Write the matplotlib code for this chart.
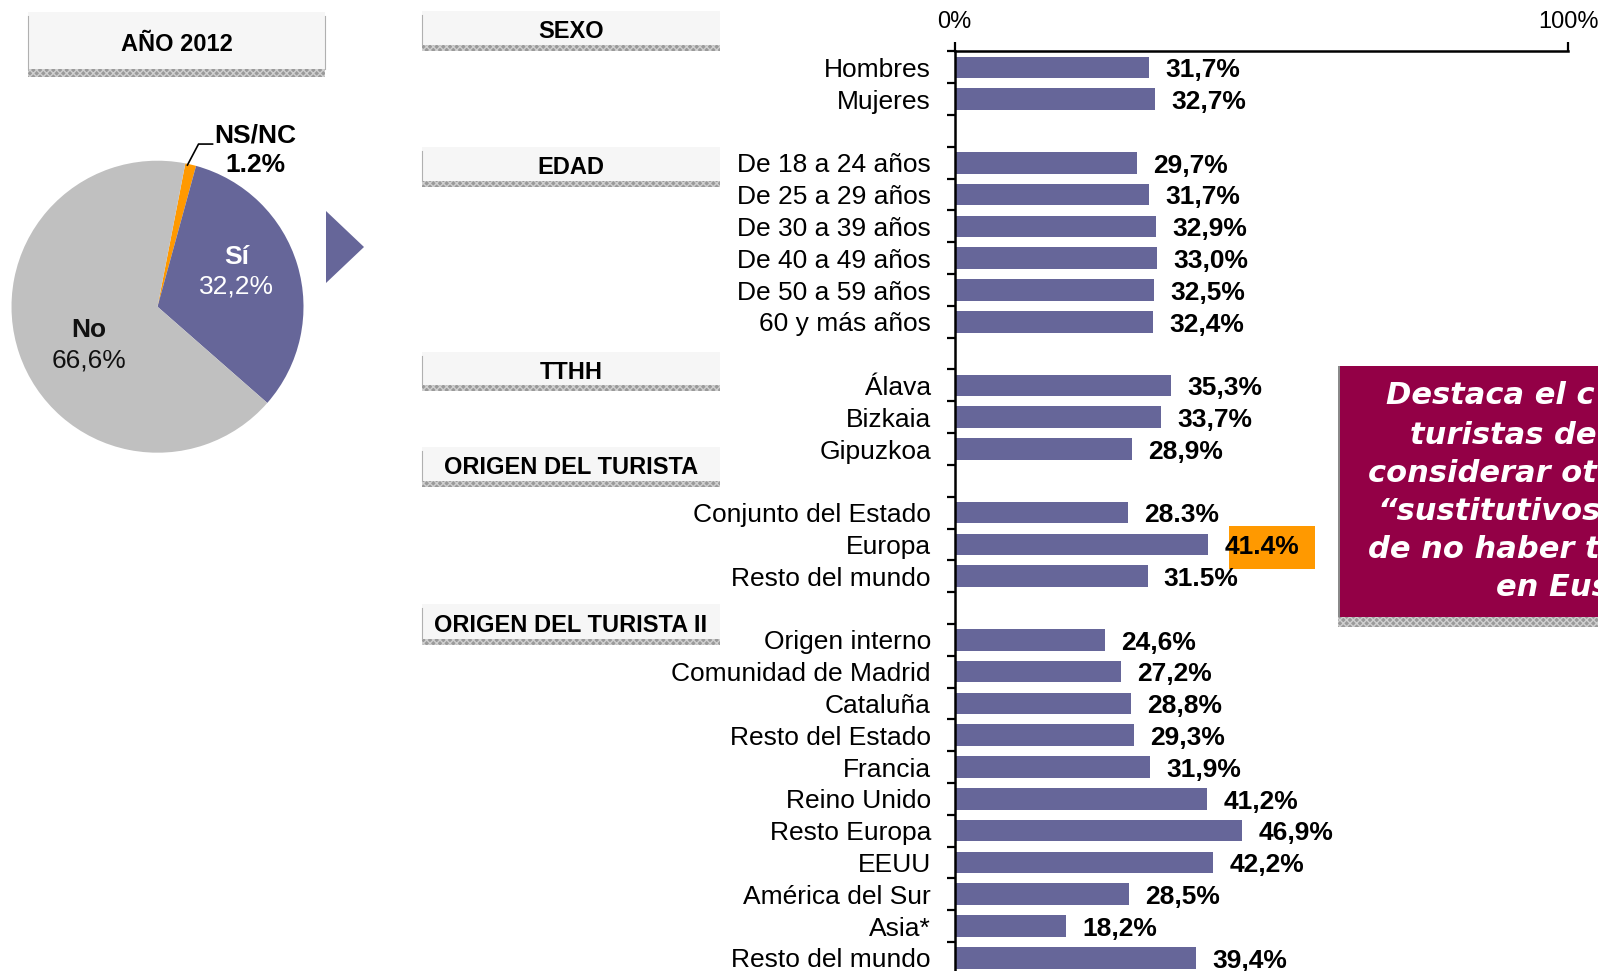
import matplotlib.pyplot as plt
import numpy as np
from matplotlib.patches import Polygon, Rectangle

plt.rcParams["font.family"] = ["Liberation Sans", "DejaVu Sans"]

W, H = 1598, 971
DPI = 100

PURPLE = "#666699"
ORANGE = "#FF9900"
GREY = "#C0C0C0"
MAROON = "#930046"

# pie: answers for 2012 (drawn clockwise from the top)
pie_names = ["NS/NC", "Sí", "No"]
pie_values = [1.2, 32.2, 66.6]
pie_decimal = [".", ",", ","]
pie_colors = [ORANGE, PURPLE, GREY]

# bar sections
section_titles = ["SEXO", "EDAD", "TTHH", "ORIGEN DEL TURISTA", "ORIGEN DEL TURISTA II"]

sexo_labels = ["Hombres", "Mujeres"]
sexo_values = [31.7, 32.7]

edad_labels = ["De 18 a 24 años", "De 25 a 29 años", "De 30 a 39 años",
               "De 40 a 49 años", "De 50 a 59 años", "60 y más años"]
edad_values = [29.7, 31.7, 32.9, 33.0, 32.5, 32.4]

tthh_labels = ["Álava", "Bizkaia", "Gipuzkoa"]
tthh_values = [35.3, 33.7, 28.9]

origen_labels = ["Conjunto del Estado", "Europa", "Resto del mundo"]
origen_values = [28.3, 41.4, 31.5]

origen2_labels = ["Origen interno", "Comunidad de Madrid", "Cataluña",
                  "Resto del Estado", "Francia", "Reino Unido", "Resto Europa",
                  "EEUU", "América del Sur", "Asia*", "Resto del mundo"]
origen2_values = [24.6, 27.2, 28.8, 29.3, 31.9, 41.2, 46.9, 42.2, 28.5, 18.2, 39.4]

groups = [
    (sexo_labels, sexo_values, ","),
    (edad_labels, edad_values, ","),
    (tthh_labels, tthh_values, ","),
    (origen_labels, origen_values, "."),
    (origen2_labels, origen2_values, ","),
]

# callout text running off the right edge of the slide
callout_lines = ["Destaca el c", "turistas de", "considerar ot",
                 "“sustitutivos", "de no haber t", "en Eus"]

# layout, in pixels from the top-left corner
header_boxes = [(422, 720, 11, 51), (422, 720, 147, 187), (422, 720, 352, 391),
                (422, 720, 447, 487), (422, 720, 604, 645)]
year_box = (28, 325, 12, 77)
callout_x = [1386, 1410, 1368, 1378, 1368, 1496]
callout_y = [396, 435, 473, 512, 549, 588]

fig = plt.figure(figsize=(W / DPI, H / DPI), dpi=DPI)
fig.patch.set_facecolor("white")


def header(ax, x0, x1, y0, y1, text, band=6):
    ax.add_patch(Rectangle((x0, y0), x1 - x0, y1 - y0 - band,
                           facecolor="#F6F6F6", edgecolor="none"))
    ax.add_patch(Rectangle((x0, y1 - band), x1 - x0, band, facecolor="#9a9a9a",
                           edgecolor="#cfcfcf", hatch="xxxxx", linewidth=0))
    ax.plot([x0, x0], [y0 + 4, y1 - band], color="#b0b0b0", lw=0.8)
    ax.text((x0 + x1) / 2, (y0 + y1 - band) / 2 + 4, text, ha="center",
            va="center", fontsize=17, fontweight="bold", color="black")


# overlay in pixel coordinates for boxes and the arrow
ov = fig.add_axes([0, 0, 1, 1], zorder=5)
ov.set_xlim(0, W)
ov.set_ylim(H, 0)
ov.axis("off")

x0, x1, y0, y1 = year_box
header(ov, x0, x1, y0, y1, "AÑO 2012", band=8)
ov.plot([x1, x1], [y0 + 4, y1 - 8], color="#b0b0b0", lw=0.8)
for (bx0, bx1, by0, by1), title in zip(header_boxes, section_titles):
    header(ov, bx0, bx1, by0, by1, title)

ov.add_patch(Polygon([(326, 211), (364, 247), (326, 283)], closed=True,
                     facecolor=PURPLE, edgecolor="none"))

# callout box on the right
ov.add_patch(Rectangle((1340, 366), W - 1340, 251, facecolor=MAROON, edgecolor="none"))
ov.add_patch(Rectangle((1338, 617), W - 1338, 10, facecolor="#9a9a9a",
                       edgecolor="#cfcfcf", hatch="xxxxx", linewidth=0))
ov.add_patch(Rectangle((1338, 366), 2, 251, facecolor="#8a8a8a", edgecolor="none"))
for line, lx, ly in zip(callout_lines, callout_x, callout_y):
    ov.text(lx, ly, line, ha="left", va="center", fontsize=22, color="white",
            family="DejaVu Sans", fontweight="bold", fontstyle="oblique")

# pie
cx, cy, r = 157.5, 306.7, 146
pax = fig.add_axes([(cx - r) / W, 1 - (cy + r) / H, 2 * r / W, 2 * r / H])
pax.pie(pie_values, colors=pie_colors, startangle=79, counterclock=False,
        radius=1, wedgeprops={"linewidth": 0})
pax.set_xlim(-1, 1)
pax.set_ylim(-1, 1)
pax.set_aspect("equal")
pax.axis("off")

pie_text = {n: f"{v:.1f}".replace(".", d) + "%"
            for n, v, d in zip(pie_names, pie_values, pie_decimal)}
pax.text(0.54, 0.34, "Sí", ha="center", va="center", fontsize=19,
         fontweight="bold", color="white")
pax.text(0.54, 0.135, pie_text["Sí"], ha="center", va="center", fontsize=19,
         color="white")
pax.text(-0.47, -0.16, "No", ha="center", va="center", fontsize=19,
         fontweight="bold", color="#111111")
pax.text(-0.47, -0.37, pie_text["No"], ha="center", va="center", fontsize=19,
         color="#111111")
pax.text(0.67, 1.176, "NS/NC", ha="center", va="center", fontsize=19,
         fontweight="bold", clip_on=False)
pax.text(0.67, 0.97, pie_text["NS/NC"], ha="center", va="center", fontsize=19,
         fontweight="bold", clip_on=False)
pax.plot([0.205, 0.281, 0.377], [0.97, 1.114, 1.114], color="black", lw=1.2,
         clip_on=False)

# bars
n_slots = sum(len(g[0]) for g in groups) + len(groups) - 1
slot_px = 31.8
top_px = 51.5
x0_px, x100_px = 954.5, 1568
ax = fig.add_axes([x0_px / W, 1 - (top_px + n_slots * slot_px) / H,
                   (x100_px - x0_px) / W, n_slots * slot_px / H], zorder=2)
ax.patch.set_visible(False)
ax.set_xlim(0, 100)
ax.set_ylim(n_slots, 0)

centers, names = [], []
start = 0
for labels, values, sep in groups:
    pos = start + np.arange(len(values)) + 0.5
    ax.barh(pos, values, height=0.68, color=PURPLE, zorder=2)
    for y, v, name in zip(pos, values, labels):
        txt = f"{v:.1f}".replace(".", sep) + "%"
        ax.annotate(txt, xy=(v, y), xytext=(11.5, -2), textcoords="offset points",
                    ha="left", va="center", fontsize=19, fontweight="bold",
                    zorder=4, annotation_clip=False)
        if name == "Europa" and labels is origen_labels:
            ax.add_patch(Rectangle((v + 3.3, y - 0.58), 14.1, 1.35,
                                   facecolor=ORANGE, edgecolor="none", zorder=3,
                                   clip_on=False))
    centers.extend(pos)
    names.extend(labels)
    start += len(values) + 1

ax.set_yticks(np.arange(n_slots + 1))
ax.set_yticklabels([])
ax.set_yticks(centers, minor=True)
ax.set_yticklabels(names, minor=True, fontsize=19)
ax.tick_params(axis="y", which="major", length=5.5, width=1.6, direction="out")
ax.tick_params(axis="y", which="minor", length=0, pad=17)

ax.xaxis.tick_top()
ax.set_xticks([0, 100])
ax.set_xticklabels(["0%", "100%"], fontsize=17)
ax.tick_params(axis="x", length=6.5, width=1.6, direction="out", pad=6.5)

for side in ["right", "bottom"]:
    ax.spines[side].set_visible(False)
for side in ["top", "left"]:
    ax.spines[side].set_linewidth(1.8)

fig.savefig("out.png", dpi=DPI, facecolor="white")
